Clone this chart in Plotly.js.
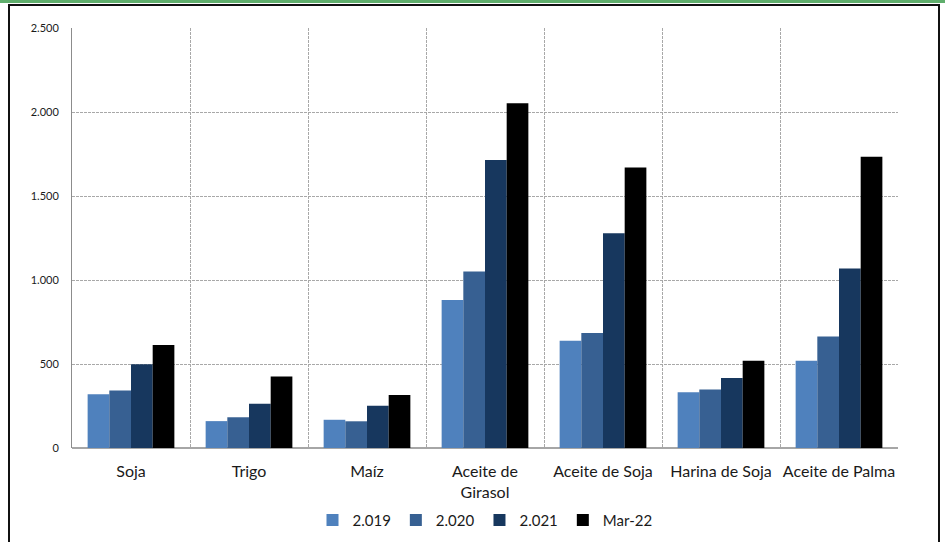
<!DOCTYPE html>
<html>
<head>
<meta charset="utf-8">
<script src="https://cdn.plot.ly/plotly-3.0.1.min.js"></script>
<style>
  html, body { margin: 0; padding: 0; background: #ffffff; }
  #frame { position: relative; width: 945px; height: 542px; overflow: hidden; }
  #topbar { position: absolute; left: 0; top: 0; width: 945px; height: 3px; background: #5fae6c; }
  #box { position: absolute; left: 8px; top: 4px; width: 932px; height: 600px; border: 2px solid #111; box-sizing: border-box; }
  #chart { position: absolute; left: 0; top: 0; width: 945px; height: 542px; }
</style>
</head>
<body>
<div id="frame">
  <div id="topbar"></div>
  <div id="box"></div>
  <div id="chart"></div>
</div>
<script>
// Precios por producto (US$/t)
const categories = ["Soja", "Trigo", "Maíz", "Aceite de<br>Girasol", "Aceite de Soja", "Harina de Soja", "Aceite de Palma"];
const seriesNames = ["2.019", "2.020", "2.021", "Mar-22"];
const v2019 = [320, 160, 168, 881, 639, 332, 520];
const v2020 = [342, 183, 159, 1051, 685, 348, 663];
const v2021 = [498, 263, 251, 1715, 1279, 417, 1069];
const vMar22 = [613, 425, 316, 2052, 1669, 520, 1733];
const yTicks = [0, 500, 1000, 1500, 2000, 2500];

const colors = ["#4f81bd", "#376092", "#17375e", "#000000"];
const values = [v2019, v2020, v2021, vMar22];

const traces = seriesNames.map((name, i) => ({
  type: "bar",
  name: name,
  x: categories,
  y: values[i],
  marker: { color: colors[i], line: { width: 0 } },
  hoverinfo: "x+y+name"
}));

const font = "Lato, 'Open Sans', 'DejaVu Sans', sans-serif";
const gridDash = "3px,1px";

const layout = {
  width: 945,
  height: 542,
  margin: { l: 72, r: 47, t: 28, b: 94, autoexpand: false },
  paper_bgcolor: "rgba(0,0,0,0)",
  plot_bgcolor: "rgba(0,0,0,0)",
  separators: ",.",
  font: { family: font, color: "#1a1a1a" },
  barmode: "group",
  bargap: 0.265,
  bargroupgap: 0,
  showlegend: true,
  legend: {
    orientation: "h",
    x: 0.5, xanchor: "center",
    y: -0.172, yanchor: "middle",
    font: { family: font, size: 15, color: "#1a1a1a" },
    itemwidth: 30,
    traceorder: "normal"
  },
  xaxis: {
    type: "category",
    tickson: "boundaries",
    showgrid: true,
    gridcolor: "#a8a8a8",
    griddash: gridDash,
    gridwidth: 1,
    ticks: "",
    showline: false,
    tickangle: 0,
    ticklabelstandoff: 12,
    tickfont: { family: font, size: 16, color: "#1a1a1a" },
    fixedrange: true
  },
  yaxis: {
    range: [0, 2500],
    tickvals: yTicks,
    tickformat: ",d",
    showgrid: true,
    gridcolor: "#a8a8a8",
    griddash: gridDash,
    gridwidth: 1,
    zeroline: true,
    zerolinecolor: "#a6a6a6",
    zerolinewidth: 2,
    showline: true,
    linecolor: "#8c8c8c",
    linewidth: 1,
    ticks: "",
    ticklabelstandoff: 10,
    tickfont: { family: font, size: 11, color: "#1a1a1a" },
    fixedrange: true
  }
};

Plotly.newPlot("chart", traces, layout, { displayModeBar: false, staticPlot: true });
</script>
</body>
</html>
